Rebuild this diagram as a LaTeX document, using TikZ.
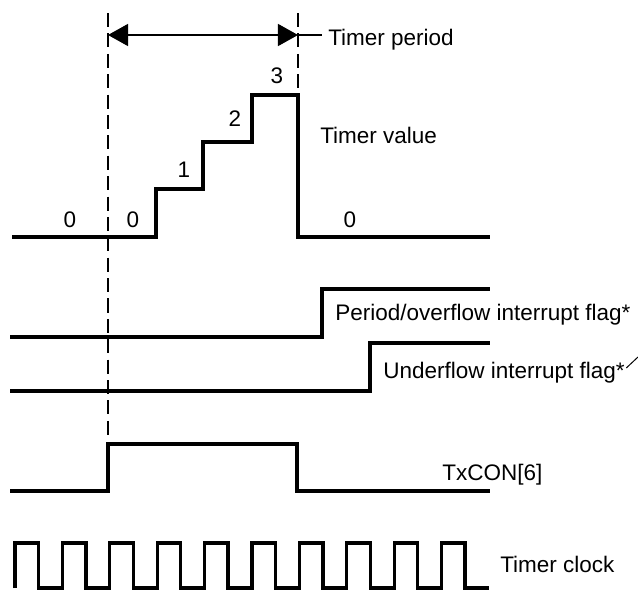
\documentclass[tikz,border=0pt]{standalone}
\usepackage{fontspec}
\setmainfont{Liberation Sans}
\usetikzlibrary{arrows.meta, positioning}

\begin{document}
\begin{tikzpicture}[
    x=0.025cm, y=-0.025cm,
    wave/.style={line width=2.3pt, line join=miter},
    guide/.style={line width=0.8pt, dash pattern=on 10pt off 4.5pt},
    lbl/.style={font=\fontsize{16}{19}\selectfont, inner sep=0pt},
    span/.style={line width=0.9pt, {Triangle[length=0.5cm, width=0.55cm]}-{Triangle[length=0.5cm, width=0.55cm]}}
]
\useasboundingbox (0,0) rectangle (638,592);

% Guide lines
\coordinate (g0top) at (108,13);
\coordinate (g0bot) at (108,440);
\coordinate (g1top) at (298,13);
\coordinate (g1bot) at (298,95);
\draw[guide] (g0top) -- (g0bot);
\draw[guide] (g1top) -- (g1bot);

% Timer period
\coordinate (p0) at (108,35);
\coordinate (p1) at (298,35);
\coordinate (p2) at (322,35);
\draw[span] (p0) -- (p1);
\draw[line width=0.9pt] (p1) -- (p2);
\node[lbl, anchor=base west] (tperiod) at (328,45) {Timer period};

% Timer value
\draw[wave] (12,237) -| (156,189) -| (203,142) -| (252,95) -| (298,237) -- (490,237);
\node[lbl, anchor=base west] (tvalue) at (320,143) {Timer value};
\node[lbl, anchor=base] (v0a) at (70,227) {0};
\node[lbl, anchor=base] (v0b) at (133,227) {0};
\node[lbl, anchor=base] (v1) at (184,177) {1};
\node[lbl, anchor=base] (v2) at (235,126) {2};
\node[lbl, anchor=base] (v3) at (277,83) {3};
\node[lbl, anchor=base] (v0c) at (350,227) {0};

% Interrupt flags
\draw[wave] (10,337) -| (322,289) -- (490,289);
\node[lbl, anchor=base west] (pflag) at (335,320) {Period/overflow interrupt flag*};
\draw[wave] (10,391) -| (370,343) -- (490,343);
\node[lbl, anchor=base west] (uflag) at (383,378) {Underflow interrupt flag*};
\coordinate (uend) at (638,357);
\draw[line width=0.7pt] ([xshift=1pt, yshift=3pt]uflag.east) -- (uend);

% TxCON[6]
\draw[wave] (10,491) -| (108,444) -| (297,491) -- (490,491);
\node[lbl, anchor=base west] (txcon) at (442,480) {TxCON[6]};

% Timer clock
\draw[wave] (15,588) \foreach \i in {0,...,9} { -- ++(0,-45) -- ++(23.5,0) -- ++(0,45) -- ++(23.9,0) };
\node[lbl, anchor=base west] (tclock) at (500,572) {Timer clock};

\end{tikzpicture}
\end{document}
